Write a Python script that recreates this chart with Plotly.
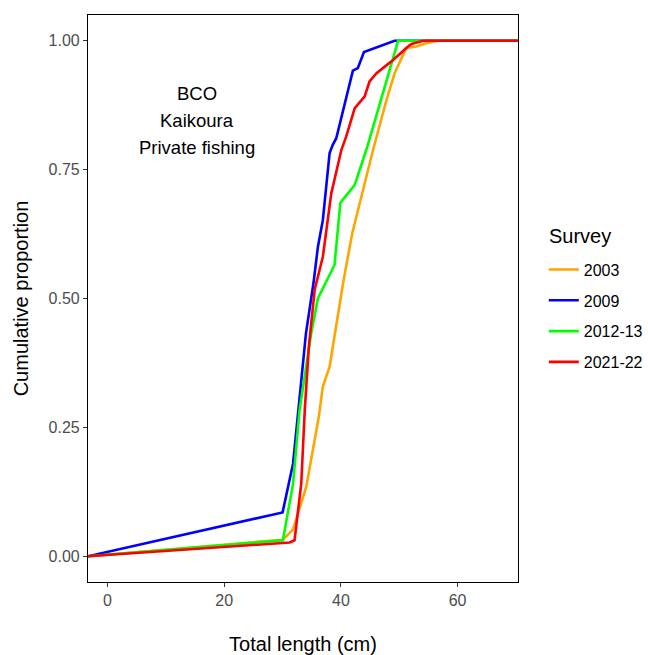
import plotly.graph_objects as go

# Axis extent (ggplot-style padded ECDF: lines run from the left panel edge at 0 to the right edge at 1)
X_RANGE = [-3.35, 70.35]
Y_RANGE = [-0.05, 1.05]

surveys = ["2003", "2009", "2012-13", "2021-22"]
colors = ["#FFA500", "#0000FF", "#00FF00", "#FF0000"]

x_2003 = [X_RANGE[0], 30.05, 31.8, 34.06, 36.2, 36.9, 38.06, 40.07, 40.46, 41.95, 44.07, 45.5,
          47.8, 49.2, 51.2, 52.9, 54.7, 56.7, X_RANGE[1]]
y_2003 = [0.0, 0.032, 0.052, 0.135, 0.27, 0.329, 0.368, 0.5165, 0.536, 0.627, 0.724, 0.788,
          0.885, 0.937, 0.986, 0.989, 0.9955, 1.0, 1.0]

x_2009 = [X_RANGE[0], 30.0, 31.8, 32.6, 34.0, 35.3, 36.05, 36.9, 38.06, 38.6, 39.2, 42.05,
          42.9, 43.95, 49.2, X_RANGE[1]]
y_2009 = [0.0, 0.085, 0.18, 0.27, 0.432, 0.53, 0.60, 0.652, 0.782, 0.798, 0.811, 0.942,
          0.947, 0.978, 1.0, 1.0]

x_2012 = [X_RANGE[0], 30.05, 31.8, 32.9, 34.9, 36.05, 38.9, 39.9, 40.2, 42.35, 44.4, 49.8, X_RANGE[1]]
y_2012 = [0.0, 0.031, 0.141, 0.283, 0.432, 0.50, 0.565, 0.685, 0.69, 0.72, 0.79, 1.0, 1.0]

x_2021 = [X_RANGE[0], 31.2, 32.05, 33.2, 33.8, 34.5, 35.5, 36.05, 36.9, 38.35, 40.07, 40.9,
          41.8, 42.35, 44.07, 44.9, 46.1, 48.65, 51.5, 52.1, 54.1, X_RANGE[1]]
y_2021 = [0.0, 0.0266, 0.031, 0.141, 0.283, 0.406, 0.517, 0.542, 0.581, 0.704, 0.788, 0.814,
          0.85, 0.869, 0.892, 0.921, 0.937, 0.96, 0.989, 0.994, 1.0, 1.0]

xs = [x_2003, x_2009, x_2012, x_2021]
ys = [y_2003, y_2009, y_2012, y_2021]

x_ticks = [0, 20, 40, 60]
y_ticks = [0.0, 0.25, 0.5, 0.75, 1.0]
y_tick_labels = ["0.00", "0.25", "0.50", "0.75", "1.00"]

annotation_lines = ["BCO", "Kaikoura", "Private fishing"]
annotation_x = 15.4
annotation_y = [0.898, 0.846, 0.792]

FONT = "Liberation Sans, Arial"

fig = go.Figure()
for name, col, x, y in zip(surveys, colors, xs, ys):
    fig.add_trace(go.Scatter(x=x, y=y, mode="lines", name=name, legendgroup=name,
                             line=dict(color=col, width=2.6)))

for txt, yy in zip(annotation_lines, annotation_y):
    fig.add_annotation(x=annotation_x, y=yy, text=txt, showarrow=False,
                       xanchor="center", yanchor="middle",
                       font=dict(family=FONT, size=18.5, color="black"))

# legend title drawn as text so its gap to the entries matches
fig.add_annotation(xref="paper", yref="paper", x=1.068, y=0.611, text="Survey",
                   showarrow=False, xanchor="left", yanchor="middle",
                   font=dict(family=FONT, size=20, color="black"))

axis_common = dict(showline=True, mirror=True, linecolor="black", linewidth=1.2,
                   ticks="outside", ticklen=4, tickcolor="#333333", tickwidth=1.1,
                   showgrid=False, zeroline=False,
                   tickfont=dict(family=FONT, size=16, color="#4D4D4D"))

fig.update_xaxes(range=X_RANGE, tickvals=x_ticks, **axis_common,
                 title=dict(text="Total length (cm)", standoff=31,
                            font=dict(family=FONT, size=20, color="black")))
fig.update_yaxes(range=Y_RANGE, tickvals=y_ticks, ticktext=y_tick_labels, **axis_common,
                 title=dict(text="Cumulative proportion", standoff=14,
                            font=dict(family=FONT, size=20, color="black")))

fig.update_layout(
    width=648, height=655,
    margin=dict(l=88, r=130, t=15, b=73, autoexpand=False),
    plot_bgcolor="white", paper_bgcolor="white",
    legend=dict(font=dict(family=FONT, size=16, color="black"),
                x=1.06, xanchor="left", y=0.469, yanchor="middle",
                tracegroupgap=7, itemwidth=30, bgcolor="rgba(0,0,0,0)"),
)

fig.write_html("out.html")
